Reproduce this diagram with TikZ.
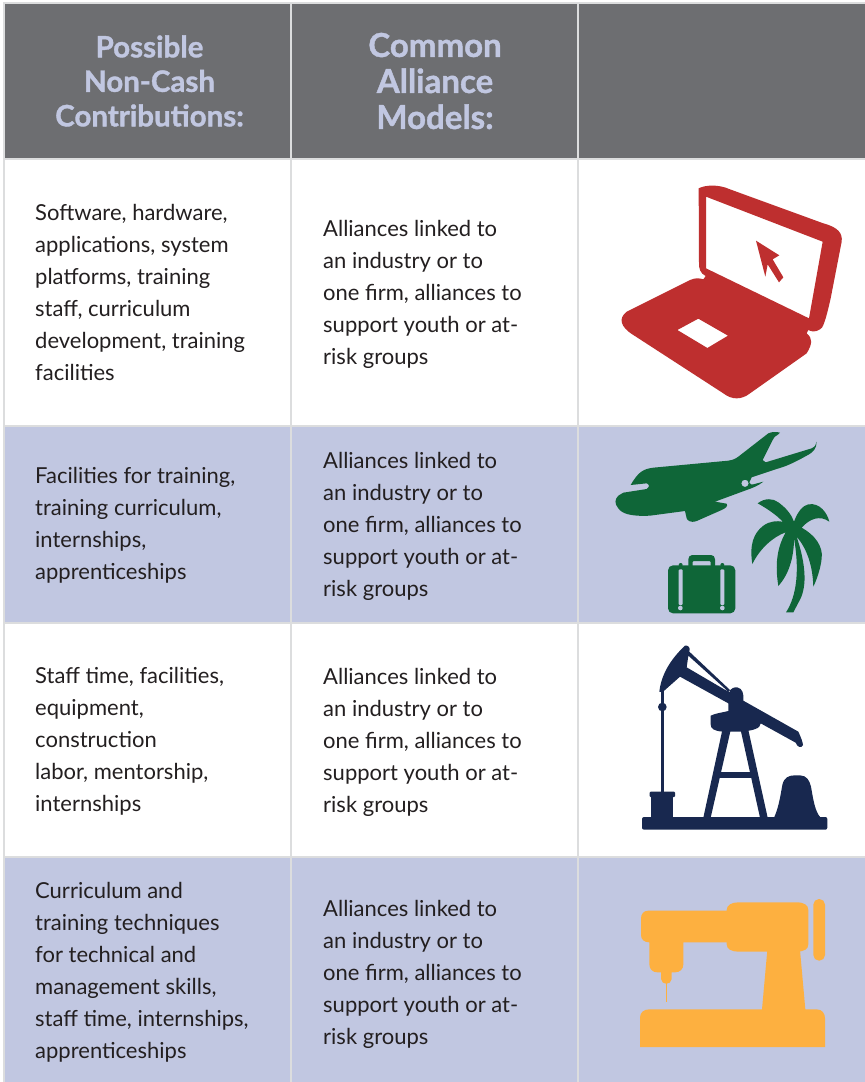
\documentclass[tikz,border=0pt]{standalone}
\usepackage{fontspec}
\setmainfont{Lato}
\newfontfamily\hfont{Lato}[BoldFeatures={FakeBold=1.2}]
\definecolor{hdr}{HTML}{6D6E71}
\definecolor{lav}{HTML}{C1C7E1}
\definecolor{grid}{HTML}{DCDDDE}
\definecolor{ink}{HTML}{231F20}
\definecolor{lapred}{HTML}{BE2F2F}
\definecolor{plane}{HTML}{0F6638}
\definecolor{navy}{HTML}{18284F}
\definecolor{sew}{HTML}{FDB040}
\tikzset{
 cell/.style={draw=grid,line width=1.2pt,fill=#1},
 body/.style={anchor=west,inner sep=0pt,align=left,text=ink,font=\fontsize{22}{32}\selectfont},
 headA/.style={inner sep=0pt,align=center,text=lav,font=\hfont\bfseries\fontsize{29.5}{34.5}\selectfont},
 headB/.style={inner sep=0pt,align=center,text=lav,font=\hfont\bfseries\fontsize{33}{36}\selectfont},
}
\begin{document}
\begin{tikzpicture}[x=1pt,y=-1pt]
\useasboundingbox (0,0) rectangle (865,1082);
\fill[white] (0,0) rectangle (865,1082);
% cells
\foreach \xa/\xb in {4/291,291/578,578/866}{
 \draw[cell=hdr] (\xa,3) rectangle (\xb,159);
 \draw[cell=white] (\xa,159) rectangle (\xb,426);
 \draw[cell=lav] (\xa,426) rectangle (\xb,623);
 \draw[cell=white] (\xa,623) rectangle (\xb,857);
 \draw[cell=lav] (\xa,857) rectangle (\xb,1083);
}
% headers
\node[headA] (h1) at (149.5,81) {Possible\\Non-Cash\\Contributions:};
\node[headB] (h2) at (435,81) {Common\\Alliance\\Models:};
% text
\node[body] (a1) at (35,292.5) {Software, hardware,\\applications, system\\platforms, training\\staff, curriculum\\development, training\\facilities};
\node[body] (a2) at (35,525) {Facilities for training,\\training curriculum,\\internships,\\apprenticeships};
\node[body] (a3) at (35,741) {Staff time, facilities,\\equipment,\\construction\\labor, mentorship,\\internships};
\node[body] (a4) at (35,972) {Curriculum and\\training techniques\\for technical and\\management skills,\\staff time, internships,\\apprenticeships};
\foreach \n/\y in {b1/294,b2/526,b3/742,b4/974}{
 \node[body] (\n) at (323,\y) {Alliances linked to\\an industry or to\\one firm, alliances to\\support youth or at-\\risk groups};
}
% laptop
\begin{scope}[shift={(590,170)},scale=1/3]
\fill[lapred,even odd rule] (326,55) .. controls (345,45) and (385,42) .. (420,58) -- (700,160) .. controls (745,172) and (758,190) .. (755,215) -- (722,385) .. controls (705,460) and (698,475) .. (690,478) .. controls (675,488) and (662,484) .. (655,480) -- (650,490) .. controls (668,505) and (668,520) .. (650,550) -- (480,670) .. controls (455,690) and (425,690) .. (400,670) -- (130,495) .. controls (90,470) and (85,445) .. (110,425) -- (300,330) .. controls (318,322) and (330,325) .. (340,328) -- (347,318) .. controls (330,310) and (327,295) .. (327,280) -- cycle
 (348,80) -- (698,215) -- (657,445) -- (348,295) -- cycle
 (325,446) -- (414,497) -- (352,534) -- (262,480) -- cycle;
\fill[lapred] (498,212) -- (568,256) -- (548,268) -- (580,322) -- (567,337) -- (533,283) -- (526,320) -- cycle;
\end{scope}
% plane, palm, suitcase
\begin{scope}[shift={(590,425)},scale=1/3]
\fill[plane,even odd rule] (122,180) .. controls (145,140) and (160,132) .. (190,128) -- (415,107) .. controls (428,105) and (435,102) .. (445,95) -- (535,25) .. controls (545,20) and (560,20) .. (570,23) -- (565,28) .. controls (555,32) and (552,38) .. (548,45) -- (518,105) -- (527,112) -- (665,70) .. controls (675,65) and (678,60) .. (680,50) .. controls (680,70) and (670,82) .. (650,92) .. controls (600,120) and (580,126) .. (560,132) -- (485,157) -- (478,172) .. controls (480,180) and (485,179) .. (490,178) -- (520,170) .. controls (505,182) and (490,188) .. (470,195) -- (375,230) -- (410,236) .. controls (415,245) and (405,250) .. (395,255) -- (320,288) .. controls (300,295) and (292,285) .. (290,280) -- (285,258) -- (180,272) .. controls (120,275) and (95,265) .. (85,250) .. controls (72,235) and (75,222) .. (85,212) -- (100,203) -- (170,192) .. controls (180,185) and (178,178) .. (170,175) -- cycle
 (476,175) arc[start angle=0,end angle=360,radius=11];
% palm
\fill[plane] (503,235) .. controls (525,218) and (550,220) .. (565,232) .. controls (590,250) and (605,270) .. (612,290) .. controls (625,255) and (640,242) .. (655,238) .. controls (690,232) and (712,265) .. (718,290) .. controls (690,270) and (660,280) .. (635,308) .. controls (675,330) and (700,365) .. (695,400) .. controls (692,430) and (680,465) .. (670,485) .. controls (668,420) and (650,370) .. (620,335) .. controls (648,420) and (650,480) .. (632,520) -- (610,562) -- (588,562) .. controls (622,510) and (628,430) .. (612,340) .. controls (612,400) and (595,450) .. (565,483) .. controls (555,420) and (560,370) .. (587,322) .. controls (550,335) and (510,370) .. (487,417) .. controls (478,360) and (490,325) .. (520,302) .. controls (540,288) and (560,287) .. (578,290) .. controls (560,270) and (530,250) .. (503,235) -- cycle;
% suitcase
\fill[plane,even odd rule] (295,425) -- (295,403) .. controls (295,395) and (300,390) .. (307,390) -- (363,390) .. controls (370,390) and (375,395) .. (375,403) -- (375,425) -- (362,425) -- (362,411) .. controls (362,409) and (361,408) .. (359,408) -- (311,408) .. controls (309,408) and (308,409) .. (308,411) -- (308,425) -- cycle;
\fill[plane,rounded corners=5pt] (234,421) rectangle (436,565);
\fill[plane] (272,420) circle[radius=6] (397,420) circle[radius=6];
\fill[lav,rounded corners=1pt] (266,433) rectangle (278,540);
\fill[lav,rounded corners=1pt] (391,433) rectangle (403,540);
\fill[lav] (271,549) circle[radius=7] (397,549) circle[radius=7];
\end{scope}
% pump
\begin{scope}[shift={(620,635)},scale=1/3]
\fill[navy,rounded corners=2pt] (66,546) rectangle (622,584);
\fill[navy] (94,484) rectangle (160,550);
\fill[navy,rounded corners=1pt] (89,470) rectangle (165,486);
\fill[navy] (122,165) rectangle (132,472);
\fill[navy] (127,216) circle[radius=13];
% head and beam
\fill[navy] (118,170) .. controls (125,110) and (160,65) .. (195,32) .. controls (205,30) and (212,38) .. (208,50) -- (330,165) -- (325,170) -- (205,62) -- (200,97) -- (328,172) .. controls (330,160) and (345,155) .. (352,157) .. controls (368,160) and (372,178) .. (370,197) -- (535,290) .. controls (542,305) and (548,320) .. (549,330) .. controls (545,340) and (532,338) .. (527,323) -- (422,265) .. controls (422,280) and (400,288) .. (355,290) -- (310,290) .. controls (280,288) and (272,280) .. (272,268) -- (272,242) .. controls (285,235) and (310,232) .. (325,228) -- (325,205) -- (180,125) -- (127,172) -- cycle;
% derrick
\fill[navy] (307,285) -- (332,285) -- (272,548) -- (250,548) -- cycle;
\fill[navy] (362,285) -- (385,285) -- (443,548) -- (420,548) -- cycle;
\fill[navy] (298,412) rectangle (398,430);
% counterweight
\fill[navy] (462,548) .. controls (475,520) and (480,490) .. (487,450) .. controls (492,428) and (505,421) .. (525,421) -- (540,421) .. controls (560,422) and (568,435) .. (573,455) .. controls (580,495) and (585,530) .. (602,548) -- cycle;
\end{scope}
% sewing machine
\begin{scope}[shift={(620,885)},scale=1/3]
\fill[sew] (60,486) -- (60,398) .. controls (60,382) and (72,373) .. (88,373) -- (426,373) -- (442,195) -- (540,195) -- (556,373) -- (590,373) .. controls (606,373) and (615,385) .. (615,400) -- (615,486) -- cycle;
\fill[sew] (320,75) .. controls (320,60) and (335,52) .. (355,52) -- (530,52) .. controls (552,52) and (565,60) .. (565,75) -- (565,178) .. controls (565,192) and (552,200) .. (530,200) -- (355,200) .. controls (335,200) and (320,192) .. (320,178) -- cycle;
\fill[sew] (325,77) -- (85,77) .. controls (70,77) and (63,88) .. (63,100) -- (63,150) .. controls (63,163) and (72,172) .. (88,172) -- (88,238) .. controls (88,252) and (98,262) .. (112,262) -- (123,262) -- (123,282) .. controls (125,301) and (153,301) .. (155,282) -- (155,262) -- (165,262) .. controls (180,262) and (190,252) .. (190,238) -- (190,172) -- (325,172) -- cycle;
\fill[sew] (137,295) rectangle (141,352);
\fill[sew,rounded corners=5.6pt] (580,42) rectangle (615,227);
\end{scope}
\end{tikzpicture}
\end{document}
